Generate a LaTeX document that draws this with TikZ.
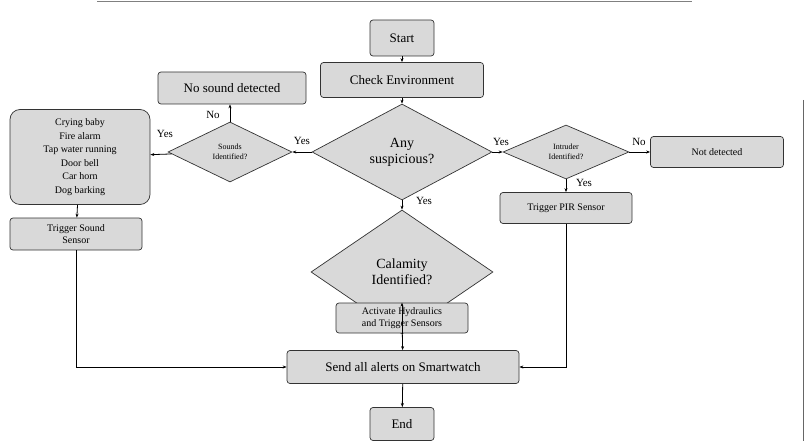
\documentclass[tikz,border=0pt]{standalone}
\usepackage{fontspec}
\setmainfont{Liberation Serif}
\usetikzlibrary{shapes.geometric,arrows.meta}
\begin{document}
\begin{tikzpicture}[x=1pt,y=-1pt,
  box/.style={draw=black!80,fill=black!15,rounded corners=3pt,line width=0.7pt,inner sep=0pt,align=center},
  dia/.style={draw=black!80,fill=black!15,diamond,line width=0.7pt,inner sep=0pt,align=center},
  arr/.style={-{Stealth[length=4pt,width=3pt]},line width=0.8pt},
  lbl/.style={font=\fontsize{11}{12}\selectfont}]
\useasboundingbox (0,0) rectangle (806,441);
\draw[black!50,line width=0.8pt] (97,1) -- (692,1);
\draw[black!60,line width=0.6pt] (803,100) -- (803,441);
\node[box,minimum width=64,minimum height=36,font=\fontsize{13}{15}\selectfont] (start) at (402,38) {Start};
\node[box,minimum width=163,minimum height=35,font=\fontsize{13}{15}\selectfont] (check) at (402,80) {Check Environment};
\node[dia,minimum width=180,minimum height=96,font=\fontsize{14}{16}\selectfont] (any) at (402,152) {Any\\suspicious?};
\node[dia,minimum width=124,minimum height=60,font=\fontsize{8}{10}\selectfont] (snd) at (230,152) {Sounds\\Identified?};
\node[box,minimum width=148,minimum height=32,font=\fontsize{13}{15}\selectfont] (nos) at (232,88) {No sound detected};
\node[box,rounded corners=10pt,minimum width=140,minimum height=95,font=\fontsize{10}{13.5}\selectfont] (list) at (80,157) {Crying baby\\Fire alarm\\Tap water running\\Door bell\\Car horn\\Dog barking};
\node[box,minimum width=132,minimum height=32,font=\fontsize{10}{12}\selectfont] (tss) at (76,234) {Trigger Sound\\Sensor};
\node[dia,minimum width=126,minimum height=54,font=\fontsize{8}{10}\selectfont] (intr) at (566,152) {Intruder\\Identified?};
\node[box,minimum width=133,minimum height=31,font=\fontsize{10}{12}\selectfont] (notd) at (717,152) {Not detected};
\node[box,minimum width=132,minimum height=31,font=\fontsize{10}{12}\selectfont] (pir) at (566,208) {Trigger PIR Sensor};
\node[dia,minimum width=182,minimum height=124,font=\fontsize{14}{16}\selectfont] (cal) at (402,272) {Calamity\\Identified?};
\node[box,minimum width=132,minimum height=30,font=\fontsize{10}{12}\selectfont] (act) at (402,318) {Activate Hydraulics\\and Trigger Sensors};
\node[box,minimum width=232,minimum height=33,font=\fontsize{13}{15}\selectfont] (send) at (403,367) {Send all alerts on Smartwatch};
\node[box,minimum width=64,minimum height=33,font=\fontsize{13}{15}\selectfont] (end) at (402,424) {End};
\draw[arr] (start) -- (check);
\draw[arr] (check) -- (any);
\draw[arr] (any) -- (snd);
\draw[arr] (snd) -- (list);
\draw[arr] (snd.north) -- (nos.south -| snd.north);
\draw[arr] (list) -- (tss);
\draw[arr] (any) -- (intr);
\draw[arr] (intr) -- (notd);
\draw[arr] (intr) -- (pir);
\draw[arr] (any) -- (cal);
\draw[arr] (cal) -- (act);
\draw[arr] (act) -- (send);
\draw[arr] (send) -- (end);
\draw[arr] (tss.south) |- (send.west);
\draw[arr] (pir.south) |- (send.east);
\node[lbl] at (302,141) {Yes};
\node[lbl] at (165,134) {Yes};
\node[lbl] at (213,115) {No};
\node[lbl] at (501,142) {Yes};
\node[lbl] at (639,142) {No};
\node[lbl] at (584,183) {Yes};
\node[lbl] at (424,201) {Yes};
\end{tikzpicture}
\end{document}
